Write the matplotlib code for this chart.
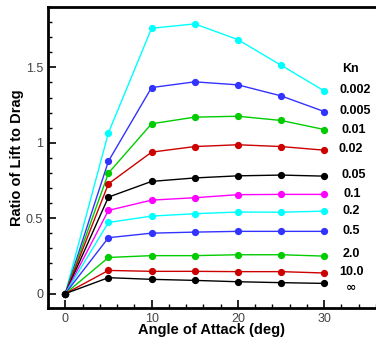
import matplotlib
matplotlib.use("Agg")
import matplotlib.pyplot as plt
from matplotlib.ticker import MultipleLocator

angles = [0, 5, 10, 15, 20, 25, 30]
kn_labels = ["0.002", "0.005", "0.01", "0.02", "0.05", "0.1", "0.2", "0.5", "2.0", "10.0", "∞"]
colors = ["#00FFFF", "#3333FF", "#00CC00", "#CC0000", "#000000", "#FF00FF",
          "#00FFFF", "#3333FF", "#00CC00", "#CC0000", "#000000"]
ratios = [
    [0, 1.066, 1.759, 1.788, 1.684, 1.514, 1.344],
    [0, 0.878, 1.366, 1.404, 1.384, 1.311, 1.207],
    [0, 0.799, 1.126, 1.170, 1.176, 1.148, 1.088],
    [0, 0.728, 0.938, 0.975, 0.987, 0.975, 0.951],
    [0, 0.640, 0.744, 0.767, 0.781, 0.786, 0.779],
    [0, 0.552, 0.620, 0.636, 0.656, 0.658, 0.658],
    [0, 0.472, 0.514, 0.530, 0.541, 0.540, 0.547],
    [0, 0.371, 0.401, 0.408, 0.413, 0.413, 0.413],
    [0, 0.240, 0.252, 0.252, 0.258, 0.258, 0.249],
    [0, 0.154, 0.148, 0.148, 0.146, 0.146, 0.137],
    [0, 0.106, 0.095, 0.088, 0.079, 0.073, 0.068],
]
label_x = [33.6, 33.6, 33.4, 33.1, 33.4, 33.2, 33.1, 33.1, 33.1, 33.2, 33.1]
label_y = [1.348, 1.208, 1.088, 0.962, 0.785, 0.660, 0.545, 0.413, 0.266, 0.141, 0.040]

plt.rcParams['font.family'] = ['Liberation Sans', 'DejaVu Sans']

fig = plt.figure(figsize=(3.76, 3.40), dpi=100)
ax = fig.add_axes([48/376, 1-308/340, 1-48/376, (308-7)/340])

for y, c in zip(ratios, colors):
    ax.plot(angles, y, color=c, lw=1.0, marker='o', ms=4.2, mec=c, mfc=c, zorder=3)

ax.text(33.0, 1.49, "Kn", fontsize=9, fontweight='bold', ha='center', va='center')
for lx, ly, t in zip(label_x, label_y, kn_labels):
    ax.text(lx, ly, t, fontsize=9, fontweight='bold', ha='center', va='center',
            family=['DejaVu Sans'] if t == "∞" else None)

ax.set_xlim(-2, 36)
ax.set_ylim(-0.095, 1.9)
ax.xaxis.set_major_locator(MultipleLocator(10))
ax.xaxis.set_minor_locator(MultipleLocator(2))
ax.yaxis.set_major_locator(MultipleLocator(0.5))
ax.yaxis.set_minor_locator(MultipleLocator(0.1))
ax.set_yticks([0, 0.5, 1, 1.5])
ax.set_yticklabels(["0", "0.5", "1", "1.5"])
ax.tick_params(which='major', direction='in', length=6, width=1.2, labelsize=9,
               labelcolor='#444444', top=False, right=False)
ax.tick_params(which='minor', direction='in', length=3, width=1.0, top=False, right=False)
ax.spines['right'].set_visible(False)
for s in ['left', 'bottom', 'top']:
    ax.spines[s].set_linewidth(2.0)

ax.set_xlabel("Angle of Attack (deg)", fontsize=10.5, fontweight='bold', labelpad=-1)
ax.set_ylabel("Ratio of Lift to Drag", fontsize=10.5, fontweight='bold', labelpad=1)

fig.savefig("out.png", dpi=100)
